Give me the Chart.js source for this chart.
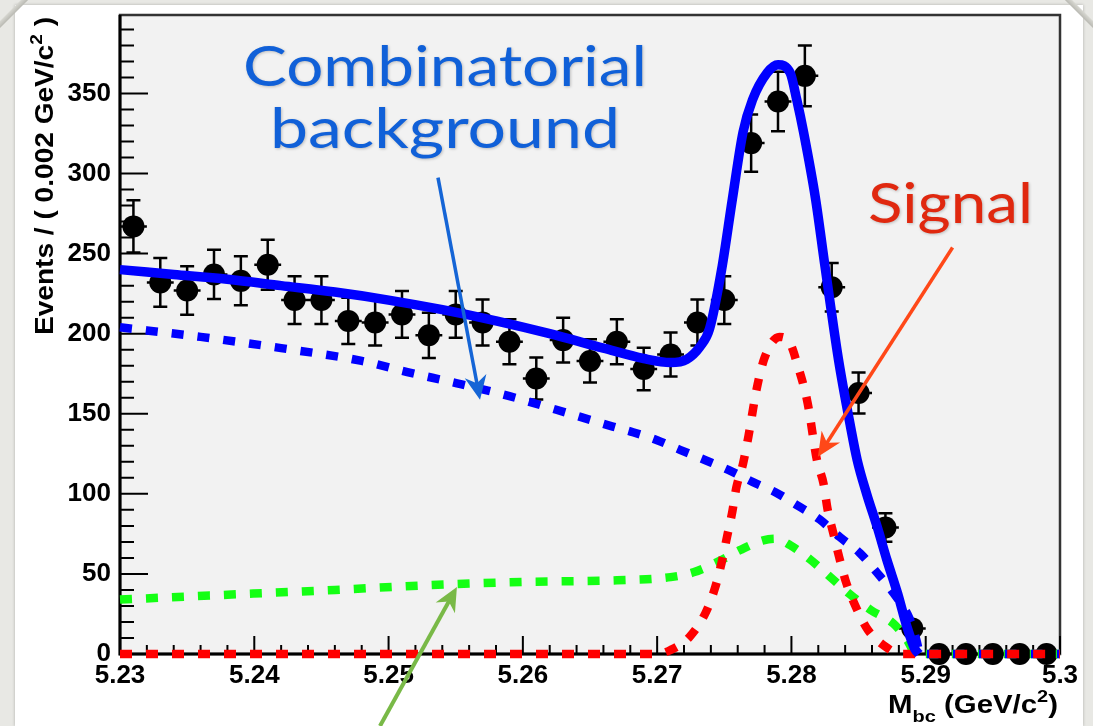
<!DOCTYPE html>
<html>
<head>
<meta charset="utf-8">
<script src="https://cdn.jsdelivr.net/npm/chart.js@4.4.1/dist/chart.umd.min.js"></script>
<style>
  html, body { margin:0; padding:0; background:#e8e8e4; overflow:hidden; }
  #sheet { position:absolute; left:15px; top:5px; width:1068px; height:721px; background:#fff; box-shadow:0 0 3px rgba(0,0,0,0.25); }
  .corner { position:absolute; width:44px; height:5px; background:linear-gradient(#d8d8d2,#b9b9b2); }
  #c { position:absolute; left:0; top:0; }
</style>
</head>
<body>
<div id="sheet"></div>
<div class="corner" style="left:-10px;top:10px;transform:rotate(-45deg)"></div>
<div class="corner" style="right:-10px;top:10px;transform:rotate(45deg)"></div>
<canvas id="c" width="1093" height="726"></canvas>
<script>
const FONT = "'Liberation Sans', Arial, Helvetica, sans-serif";
const NOTE_FONT = "Lato, 'Open Sans', sans-serif";

// Mbc histogram, 0.002 GeV/c^2 bins
const binCenters = [5.231, 5.233, 5.235, 5.237, 5.239, 5.241, 5.243, 5.245, 5.247, 5.249,
                    5.251, 5.253, 5.255, 5.257, 5.259, 5.261, 5.263, 5.265, 5.267, 5.269,
                    5.271, 5.273, 5.275, 5.277, 5.279, 5.281, 5.283, 5.285, 5.287, 5.289,
                    5.291, 5.293, 5.295, 5.297, 5.299];
const binCounts  = [267, 232, 227, 237, 233, 243, 221, 221, 208, 207,
                    212, 199, 212, 207, 195, 172, 196, 183, 195, 178,
                    187, 207, 221, 319, 345, 361, 229, 163, 79, 16,
                    0, 0, 0, 0, 0];
const binErrors  = [16.3, 15.2, 15.1, 15.4, 15.3, 15.6, 14.9, 14.9, 14.4, 14.4,
                    14.6, 14.1, 14.6, 14.4, 14.0, 13.1, 14.0, 13.5, 14.0, 13.3,
                    13.7, 14.4, 14.9, 17.9, 18.6, 19.0, 15.1, 12.8, 8.9, 4.0,
                    0, 0, 0, 0, 0];

// total fit
const totalX = [5.2300, 5.2340, 5.2380, 5.2420, 5.2460, 5.2500, 5.2540, 5.2580, 5.2620, 5.2660,
                5.2690, 5.2710, 5.2722, 5.2732, 5.2739, 5.2748, 5.2756, 5.2764, 5.2771, 5.2782,
                5.2790, 5.2799, 5.2804, 5.2809, 5.2818, 5.2825, 5.2835, 5.2844, 5.2849, 5.2856,
                5.2864, 5.2871, 5.2879, 5.2886, 5.2892, 5.2895];
const totalY = [240, 237, 234, 230, 226, 221, 215, 208, 200, 191,
                184.5, 182, 184, 192, 203, 240, 284, 326, 346, 363,
                368, 363, 346, 326, 284, 242, 184, 142, 121, 100,
                79, 59, 38, 17, 3, 0];

// combinatorial background (ARGUS)
const combX = [5.2300, 5.2360, 5.2420, 5.2480, 5.2514, 5.2551, 5.2590, 5.2625, 5.2667, 5.2682,
               5.2700, 5.2717, 5.2736, 5.2753, 5.2771, 5.2788, 5.2804, 5.2821, 5.2836, 5.2851,
               5.2864, 5.2876, 5.2888, 5.2893, 5.2896, 5.3000];
const combY = [204, 198, 191, 183, 176, 169, 161, 152.5, 142, 138.5,
               133.5, 127.5, 121, 115, 107.5, 101, 93, 84, 73, 63,
               50.5, 38, 22, 9, 0, 0];

// peaking background
const peakX = [5.2300, 5.2380, 5.2460, 5.2530, 5.2600, 5.2670, 5.2710, 5.2727, 5.2745, 5.2762,
               5.2779, 5.2788, 5.2799, 5.2814, 5.2829, 5.2844, 5.2859, 5.2876, 5.2886, 5.2893, 5.3000];
const peakY = [34, 37, 40, 43, 45, 46, 48, 51, 57.5, 65,
               71, 72, 68, 59, 48, 37, 27.5, 19, 9, 0, 0];

// signal
const sigX = [5.2300, 5.2700, 5.2710, 5.2724, 5.2736, 5.2743, 5.2748, 5.2752, 5.2756, 5.2759,
              5.2764, 5.2768, 5.2774, 5.2780, 5.2791, 5.2799, 5.2804, 5.2812, 5.2819, 5.2824,
              5.2827, 5.2831, 5.2836, 5.2841, 5.2849, 5.2857, 5.2871, 5.2881, 5.3000];
const sigY = [0, 0, 2.5, 10.6, 25.6, 41, 57, 73, 89, 104,
              119, 136, 165, 185, 198, 194, 182, 157, 121, 106,
              90, 76, 59, 44, 27.5, 15, 4, 0, 0];

const xTickValues = [5.23, 5.24, 5.25, 5.26, 5.27, 5.28, 5.29, 5.30];
const xTickLabels = ['5.23', '5.24', '5.25', '5.26', '5.27', '5.28', '5.29', '5.3'];
const yTickValues = [0, 50, 100, 150, 200, 250, 300, 350];
const yTickLabels = ['0', '50', '100', '150', '200', '250', '300', '350'];

const pairs = (xs, ys) => xs.map((x, i) => ({x: x, y: ys[i]}));

// grey frame fill, axes and inward ticks (ROOT look)
const framePlugin = {
  id: 'frame',
  beforeDraw(chart) {
    const {ctx, chartArea: a} = chart;
    ctx.save();
    ctx.fillStyle = '#f2f2f2';
    ctx.fillRect(a.left, a.top, a.right - a.left, a.bottom - a.top);
    ctx.restore();
  },
  beforeDatasetsDraw(chart) {
    const {ctx, chartArea: a, scales} = chart;
    ctx.save();
    ctx.strokeStyle = '#333';
    ctx.lineWidth = 2.5;
    ctx.strokeRect(a.left, a.top, a.right - a.left, a.bottom - a.top);
    ctx.strokeStyle = '#000';
    ctx.lineWidth = 3;
    ctx.beginPath();
    ctx.moveTo(a.left, a.top); ctx.lineTo(a.left, a.bottom); ctx.lineTo(a.right, a.bottom);
    ctx.stroke();

    ctx.lineWidth = 2;
    ctx.beginPath();
    for (let k = 0; k <= 35; k++) {
      const px = scales.x.getPixelForValue(5.23 + k * 0.002);
      const len = k % 5 === 0 ? 18 : 9;
      ctx.moveTo(px, a.bottom); ctx.lineTo(px, a.bottom - len);
    }
    for (let v = 0; v <= 390; v += 10) {
      const py = scales.y.getPixelForValue(v);
      const len = v % 50 === 0 ? 28 : 14;
      ctx.moveTo(a.left, py); ctx.lineTo(a.left + len, py);
    }
    ctx.stroke();
    ctx.restore();
  }
};

// error bars under the data points
const errorBarPlugin = {
  id: 'errorBars',
  beforeDatasetDraw(chart, args) {
    if (args.index !== 0) return;
    const {ctx, scales} = chart;
    ctx.save();
    ctx.strokeStyle = '#000';
    ctx.lineWidth = 2.5;
    ctx.beginPath();
    binCenters.forEach((x, i) => {
      const px = scales.x.getPixelForValue(x);
      const py = scales.y.getPixelForValue(binCounts[i]);
      const x0 = scales.x.getPixelForValue(x - 0.001), x1 = scales.x.getPixelForValue(x + 0.001);
      ctx.moveTo(x0, py); ctx.lineTo(x1, py);
      if (binErrors[i] > 0) {
        const top = scales.y.getPixelForValue(binCounts[i] + binErrors[i]);
        const bot = scales.y.getPixelForValue(binCounts[i] - binErrors[i]);
        ctx.moveTo(px, top); ctx.lineTo(px, bot);
        ctx.moveTo(px - 7, top); ctx.lineTo(px + 7, top);
        ctx.moveTo(px - 7, bot); ctx.lineTo(px + 7, bot);
      }
    });
    ctx.stroke();
    ctx.restore();
  }
};

function richText(ctx, parts, length) {
  let w = 0;
  parts.forEach(p => { ctx.font = p[1]; p.w = ctx.measureText(p[0]).width; w += p.w; });
  ctx.scale(length / w, 1);
  let x = 0;
  parts.forEach(p => { ctx.font = p[1]; ctx.fillText(p[0], x, p[2]); x += p.w; });
}

function fitText(ctx, str, cx, baseline, width, font, color) {
  ctx.save();
  ctx.font = font;
  const m = ctx.measureText(str).width;
  ctx.translate(cx, baseline);
  ctx.scale(width / m, 1);
  ctx.textAlign = 'center';
  ctx.fillStyle = color;
  ctx.shadowColor = 'rgba(0,0,0,0.22)';
  ctx.shadowBlur = 3;
  ctx.shadowOffsetX = 1; ctx.shadowOffsetY = 1;
  ctx.fillText(str, 0, 0);
  ctx.restore();
}

function arrow(ctx, x0, y0, x1, y1, color, width) {
  const ang = Math.atan2(y1 - y0, x1 - x0);
  const head = 24, half = 11;
  ctx.save();
  ctx.strokeStyle = color; ctx.fillStyle = color;
  ctx.lineWidth = width;
  ctx.beginPath();
  ctx.moveTo(x0, y0);
  ctx.lineTo(x1 - Math.cos(ang) * head * 0.6, y1 - Math.sin(ang) * head * 0.6);
  ctx.stroke();
  ctx.translate(x1, y1); ctx.rotate(ang);
  ctx.beginPath();
  ctx.moveTo(0, 0); ctx.lineTo(-head, -half); ctx.lineTo(-head * 0.7, 0); ctx.lineTo(-head, half);
  ctx.closePath(); ctx.fill();
  ctx.restore();
}

// axis titles and the slide labels/arrows
const notesPlugin = {
  id: 'notes',
  afterDraw(chart) {
    const {ctx, chartArea: a, scales} = chart;
    const X = v => scales.x.getPixelForValue(v), Y = v => scales.y.getPixelForValue(v);
    const big = 'bold 25px ' + FONT, small = 'bold 17px ' + FONT;

    ctx.save();
    ctx.fillStyle = '#000';
    ctx.translate(53, a.top + 320);
    ctx.rotate(-Math.PI / 2);
    richText(ctx, [['Events / ( 0.002 GeV/c', big, 0], ['2', small, -11], [' )', big, 0]], 318);
    ctx.restore();

    ctx.save();
    ctx.fillStyle = '#000';
    ctx.translate(a.right - 172, a.bottom + 59);
    richText(ctx, [['M', big, 0], ['bc', small, 9], [' (GeV/c', big, 0], ['2', small, -11], [')', big, 0]], 170);
    ctx.restore();

    const noteFont = '400 57px ' + NOTE_FONT;
    fitText(ctx, 'Combinatorial', X(5.2542), Y(354.4), 404, noteFont, '#1060d8');
    fitText(ctx, 'background', X(5.2542), Y(316.2), 350, noteFont, '#1060d8');
    fitText(ctx, 'Signal', X(5.29184), Y(269.4), 165, noteFont, '#e0280f');

    arrow(ctx, X(5.25368), Y(297.5), X(5.25681), Y(158.8), '#1565d6', 3.5);
    arrow(ctx, X(5.2920), Y(253.8), X(5.28197), Y(123.1), '#ff4818', 3.5);
    arrow(ctx, X(5.24936), Y(-45), X(5.25509), Y(41.9), '#79b947', 4);
  }
};

const curve = (label, xs, ys, color, width, dash, order) => ({
  type: 'line', label: label, data: pairs(xs, ys),
  borderColor: color, borderWidth: width, borderDash: dash,
  pointRadius: 0, pointHoverRadius: 0, fill: false,
  cubicInterpolationMode: 'monotone', order: order, clip: false
});

new Chart(document.getElementById('c'), {
  type: 'scatter',
  data: {
    datasets: [
      { label: 'data', data: pairs(binCenters, binCounts), pointRadius: 11, pointHoverRadius: 11,
        backgroundColor: '#000', borderWidth: 0, order: 5, clip: false },
      curve('combinatorial', combX, combY, '#0000ff', 8.5, [12, 14], 2),
      curve('peaking', peakX, peakY, '#14ff14', 8.5, [12, 14], 3),
      curve('signal', sigX, sigY, '#ff0000', 8.5, [12, 14], 1),
      curve('total', totalX, totalY, '#0000ff', 9.5, [], 0)
    ]
  },
  options: {
    responsive: false,
    animation: false,
    events: [],
    layout: { padding: { top: 15, right: 33, left: 0, bottom: 0 } },
    plugins: { legend: { display: false }, tooltip: { enabled: false } },
    scales: {
      x: {
        type: 'linear', min: 5.23, max: 5.30,
        grid: { display: false, drawTicks: false },
        border: { display: false },
        afterBuildTicks: s => { s.ticks = xTickValues.map(v => ({ value: v })); },
        afterFit: s => { s.height = 72; s.paddingLeft = 0; s.paddingRight = 0; },
        ticks: { callback: (v, i) => xTickLabels[i], color: '#000', padding: 6,
                 maxRotation: 0, autoSkip: false, font: { family: FONT, size: 26, weight: 'bold' } }
      },
      y: {
        type: 'linear', min: 0, max: 399,
        grid: { display: false, drawTicks: false },
        border: { display: false },
        afterBuildTicks: s => { s.ticks = yTickValues.map(v => ({ value: v })); },
        afterFit: s => { s.width = 120; s.paddingTop = 0; s.paddingBottom = 0; },
        ticks: { callback: (v, i) => yTickLabels[i], color: '#000', padding: 9,
                 font: { family: FONT, size: 26, weight: 'bold' } }
      }
    }
  },
  plugins: [framePlugin, errorBarPlugin, notesPlugin]
});
</script>
</body>
</html>
